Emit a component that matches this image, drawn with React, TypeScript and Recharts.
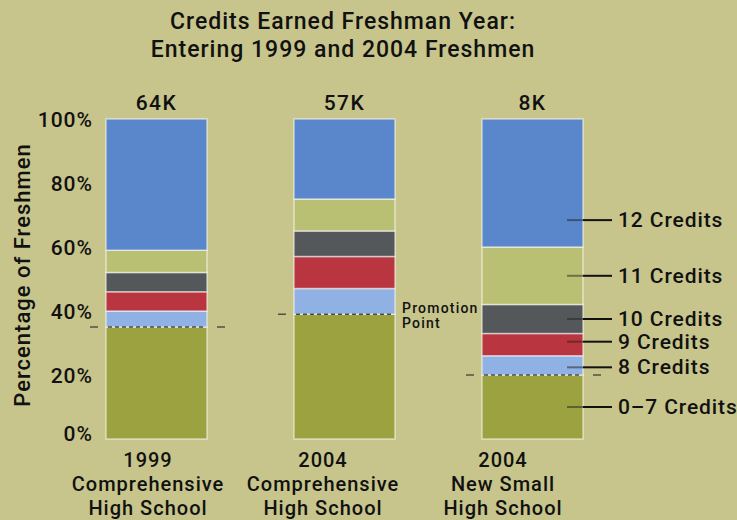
import React from 'react';
import { BarChart, Bar, XAxis, YAxis, LabelList, Label } from 'recharts';

// ---- data ----
const categories = [
  ['1999', 'Comprehensive', 'High School'],
  ['2004', 'Comprehensive', 'High School'],
  ['2004', 'New Small', 'High School'],
];
const totals = ['64K', '57K', '8K'];
const credits0to7 = [35, 39, 20];
const credits8 = [5, 8, 6];
const credits9 = [6, 10, 7];
const credits10 = [6, 8, 9];
const credits11 = [7, 10, 18];
const credits12 = [41, 25, 40];
const yTicks = [0, 20, 40, 60, 80, 100];

const data = categories.map((c, i) => ({
  name: c.join(' '),
  total: totals[i],
  c07: credits0to7[i],
  c8: credits8[i],
  c9: credits9[i],
  c10: credits10[i],
  c11: credits11[i],
  c12: credits12[i],
}));

const FONT = 'Roboto, sans-serif';
const BG = '#c7c58b';
const INK = '#111';

const series = [
  { key: 'c07', name: '0–7 Credits', color: '#9ba23f', frac: 0.5 },
  { key: 'c8', name: '8 Credits', color: '#8fb1e3', frac: 0.6 },
  { key: 'c9', name: '9 Credits', color: '#b93540', frac: 0.37 },
  { key: 'c10', name: '10 Credits', color: '#55585b', frac: 0.5 },
  { key: 'c11', name: '11 Credits', color: '#bac073', frac: 0.5 },
  { key: 'c12', name: '12 Credits', color: '#5a86cb', frac: 0.79 },
];

const xLabelShift = [-8, -21, -29];

const XTick = (props: any) => {
  const { x, y, index } = props;
  const lines = categories[index] || [];
  const cx = x + (xLabelShift[index] || 0);
  return (
    <g>
      {lines.map((t, i) => (
        <text key={i} x={cx} y={y + 21 + i * 24} textAnchor="middle" dominantBaseline="central"
          style={{ fontFamily: FONT, fontSize: 20, fontWeight: 500, fill: INK, letterSpacing: 1 }}>{t}</text>
      ))}
    </g>
  );
};

const YTick = (props: any) => {
  const { x, y, payload } = props;
  const dy = payload.value === 0 ? -5 : 1;
  return (
    <text x={x + 31} y={y + dy} textAnchor="end" dominantBaseline="central"
      style={{ fontFamily: FONT, fontSize: 21, fontWeight: 500, fill: INK, letterSpacing: 1 }}>
      {payload.value}%
    </text>
  );
};

const YLabel = (props: any) => {
  const vb = props.viewBox || {};
  const cy = vb.y + vb.height / 2 - 4;
  return (
    <text x={22} y={cy} textAnchor="middle" dominantBaseline="central" transform={`rotate(-90, 22, ${cy})`}
      style={{ fontFamily: FONT, fontSize: 22, fontWeight: 500, fill: INK, letterSpacing: 1 }}>
      Percentage of Freshmen
    </text>
  );
};

const makeLegendLabel = (def: any) => (props: any) => {
  const { x, y, width, height, index } = props;
  if (index !== 2) return null;
  const ly = y + height * def.frac;
  const r = x + width;
  return (
    <g>
      <line x1={r - 16} x2={r} y1={ly} y2={ly} stroke="#222" strokeWidth={2} opacity={0.5} />
      <line x1={r} x2={r + 29} y1={ly} y2={ly} stroke={INK} strokeWidth={2} />
      <text x={r + 35} y={ly} dominantBaseline="central"
        style={{ fontFamily: FONT, fontSize: 21, fontWeight: 500, fill: INK, letterSpacing: 0.9 }}>{def.name}</text>
    </g>
  );
};

const PromotionLabel = (props: any) => {
  const { x, y, width, height, index } = props;
  const py = y + height;
  return (
    <g>
      <line x1={x + 2} x2={x + width - 2} y1={py} y2={py} stroke="#4a4a48" strokeWidth={1.5} strokeDasharray="4 3" />
      <line x1={x - 16} x2={x - 8} y1={py} y2={py} stroke="#333" strokeWidth={1.2} />
      {index !== 1 && (
        <line x1={x + width + 10} x2={x + width + 18} y1={py} y2={py} stroke="#333" strokeWidth={1.2} />
      )}
      {index === 1 && (
        <g style={{ fontFamily: FONT, fontSize: 14, fontWeight: 500, fill: INK, letterSpacing: 1.2 }}>
          <text x={x + width + 7} y={py - 6} dominantBaseline="central">Promotion</text>
          <text x={x + width + 7} y={py + 9} dominantBaseline="central">Point</text>
        </g>
      )}
    </g>
  );
};

export default function App() {
  return (
    <div style={{ position: 'absolute', left: 0, top: 0, width: 737, height: 520, background: BG, fontFamily: FONT, overflow: 'hidden' }}>
      <div style={{ position: 'absolute', left: 0, top: 8, width: 686, textAlign: 'center', fontSize: 23, lineHeight: '28px', fontWeight: 500, color: INK, letterSpacing: 1 }}>
        <div>Credits Earned Freshman Year:</div>
        <div>Entering 1999 and 2004 Freshmen</div>
      </div>
      <div style={{ position: 'absolute', left: 0, top: 0 }}>
        <BarChart width={737} height={520} data={data} margin={{ top: 119, right: 111, bottom: 0, left: 0 }} barSize={101}>
          <XAxis dataKey="name" axisLine={false} tickLine={false} tickSize={0} tickMargin={0} height={81} tick={<XTick />} interval={0} />
          <YAxis type="number" domain={[0, 100]} ticks={yTicks} axisLine={false} tickLine={false} tickSize={0} tickMargin={0} width={62} tick={<YTick />} interval={0}>
            <Label content={<YLabel />} />
          </YAxis>
          {series.map((s) => (
            <Bar key={s.key} dataKey={s.key} stackId="a" fill={s.color} stroke="rgba(255,255,255,0.55)" strokeWidth={1.5} isAnimationActive={false}>
              {s.key === 'c8' && <LabelList dataKey={s.key} content={<PromotionLabel />} />}
              <LabelList dataKey={s.key} content={makeLegendLabel(s)} />
              {s.key === 'c12' && (
                <LabelList dataKey="total" position="top" offset={9}
                  style={{ fontFamily: FONT, fontSize: 21, fontWeight: 500, fill: INK, letterSpacing: 1.5 }} />
              )}
            </Bar>
          ))}
        </BarChart>
      </div>
    </div>
  );
}
